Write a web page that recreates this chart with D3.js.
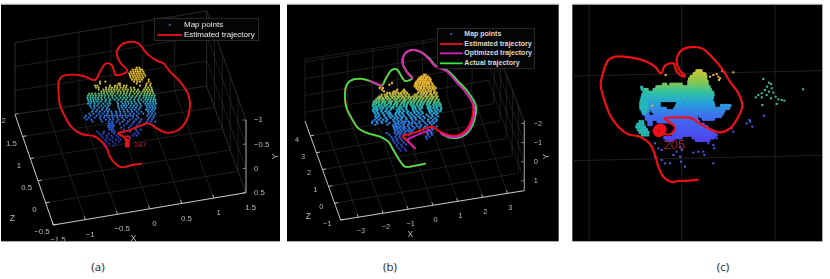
<!DOCTYPE html>
<html>
<head>
<meta charset="UTF-8">
<script src="https://d3js.org/d3.v7.min.js"></script>
<style>
  html, body { margin: 0; padding: 0; background: #fff; }
  svg { display: block; }
  .soft { filter: blur(0.5px); }
  .softer { filter: blur(0.65px); }
</style>
</head>
<body>
<svg id="chart" width="830" height="279"></svg>
<script>
// all picture values are in "read units": 3 units = 1 pixel of the reference
var xTicksA = [-1.5, -1, -0.5, 0, 0.5, 1, 1.5];
var yTicksA = [-1, -0.5, 0, 0.5];
var zTicksA = [-0.5, 0, 0.5, 1, 1.5, 2];
var xTicksB = [-3, -2, -1, 0, 1, 2, 3];
var yTicksB = [-2, -1, 0, 1];
var zTicksB = [-1, 0, 1, 2, 3, 4];

var trajectoryA = [[425,491],[395,495],[365,502],[345,490],[330,470],[320,445],[300,420],[280,408],[245,402],[215,382],[195,350],[180,315],[176,280],[176,245],[185,230],[215,224],[250,228],[285,240],[300,215],[318,190],[335,195],[348,225],[382,212],[362,190],[350,160],[360,138],[385,126],[415,130],[440,160],[470,182],[490,190],[510,215],[540,245],[565,285],[570,320],[560,360],[535,390],[500,398],[470,385],[445,370],[415,380],[385,392],[355,400],[370,410],[382,420]];

var estimatedB = [[435,491],[405,497],[375,500],[358,480],[340,450],[325,425],[300,410],[265,400],[235,385],[215,355],[200,325],[195,295],[198,260],[210,243],[240,236],[275,245],[305,257],[318,235],[335,210],[350,208],[365,230],[375,243],[397,235],[380,215],[368,190],[372,165],[395,150],[420,155],[445,175],[465,198],[500,212],[530,245],[560,280],[579,315],[577,350],[556,393],[530,407],[505,405],[480,395],[455,380],[425,390],[395,401],[368,409],[385,425],[405,445]];
var optimizedB1 = [[270,243],[288,250],[305,257]];
var optimizedB2 = [[397,235],[380,215],[368,190],[372,165],[395,150],[420,155],[445,175],[465,198],[500,214],[530,247],[562,283],[582,318],[581,352],[560,396],[533,411],[508,410],[482,400]];
var optimizedB3 = [[450,390],[425,399],[400,410],[382,420],[395,435],[405,445]];
var actualB = [[435,491],[405,497],[375,500],[358,480],[340,450],[325,425],[300,410],[265,400],[235,385],[215,355],[200,325],[195,295],[198,260],[210,243],[240,236],[275,245],[305,257],[318,235],[335,210],[350,208],[365,230],[375,243],[397,235],[380,215],[368,190],[372,165],[395,150],[420,155],[445,172],[468,198],[503,212],[534,243],[566,278],[587,315],[586,350],[566,395],[535,414],[510,413],[488,404]];

var trajectoryC = [[398,539],[370,542],[340,543],[318,546],[295,530],[280,500],[270,465],[255,432],[225,410],[190,403],[160,380],[135,345],[115,290],[107,255],[115,215],[130,180],[150,170],[195,172],[240,183],[270,200],[288,220],[300,197],[325,190],[335,215],[350,228],[360,228],[345,212],[335,185],[345,155],[370,142],[410,145],[440,170],[470,205],[495,245],[520,280],[532,317],[520,350],[495,385],[465,397],[430,385],[400,368],[380,355],[340,352],[298,355],[318,370],[330,382],[318,402],[295,402],[278,400],[268,392],[275,378],[292,375],[302,388],[290,405],[272,405],[265,392]];

// map points as rows: [y, [x, x, ...]]
var cloudA = [
  [203,[410,418]],
  [209,[398,406,412,420,426]],
  [215,[392,400,407,414,421,430]],
  [221,[388,395,402,410,417,424,432]],
  [227,[390,398,405,412,419,427,436]],
  [233,[392,400,408,415,422,430]],
  [239,[396,404,410,418,426,446]],
  [245,[402,412,420,446,316,300]],
  [251,[300,356,360,410,440,452]],
  [257,[285,292,330,345,352,360,372,380,420,438,450]],
  [263,[288,296,318,328,336,344,352,362,370,378,392,402,436,444,454]],
  [269,[296,310,318,326,334,342,350,358,368,376,384,394,404,414,432,440,448,456]],
  [275,[304,312,320,328,336,344,354,362,372,382,392,400,410,418,428,436,444,452,458]],
  [281,[268,276,286,296,304,312,322,332,340,352,362,372,380,390,404,414,424,434,442,450,460]],
  [287,[264,272,280,288,298,306,316,326,336,346,358,368,378,388,398,410,420,432,440,448,456,464]],
  [293,[262,270,278,286,294,304,314,326,338,350,362,372,382,394,406,418,430,438,446,454,462]],
  [299,[264,272,280,288,296,306,318,330,344,356,368,378,390,402,414,424,436,444,452,460,466]],
  [305,[266,274,282,292,302,316,328,352,364,376,384,394,404,416,430,440,450,458,466]],
  [311,[264,272,284,296,310,322,330,354,368,376,386,396,408,420,436,444,452,460,468]],
  [317,[270,282,292,304,316,326,354,364,372,380,392,402,412,424,440,448,456,464]],
  [323,[274,284,298,310,322,356,366,376,388,398,408,420,442,450,458,466]],
  [329,[280,292,306,320,328,358,370,382,394,404,416,438,446,456,464]],
  [335,[276,288,300,314,324,334,348,360,372,384,396,410,424,444,452,460]],
  [341,[268,280,296,308,322,336,350,362,376,390,402,416,430,446,456,466]],
  [347,[258,272,290,302,314,320,328,336,344,352,360,368,376,384,392,400,410,442,452,462]],
  [353,[254,266,284,300,312,326,338,352,366,380,398,414,448,460]],
  [359,[260,274,302,318,330,340,356,372,390,408,424,444,456]],
  [365,[278,306,326,336,350,368,384,402,420,440,452,466]],
  [371,[326,332,338,360,380,398,416,434]],
  [377,[324,330,336,342,372,392,410,426,462]],
  [383,[326,332,338,364,386,404]],
  [389,[328,334,340,372,408,422]],
  [395,[292,312,336,344,390,412]],
  [401,[298,310,326,342,360,404,416]],
  [407,[304,320,334,350,398,410]],
  [413,[308,322,338,356,390]],
  [419,[316,330,348,362]],
  [425,[320,338,356]],
  [431,[314,328,346]],
  [437,[318,340]]
];

var cloudB = [
  [224,[432,437]],
  [229,[424,431,436,444]],
  [234,[418,423,430,438,441,449]],
  [239,[414,420,426,433,438,446,452]],
  [244,[410,415,423,430,436,443,451]],
  [249,[407,413,420,428,434,441,447,455,336]],
  [254,[405,411,418,426,433,440,448,458,328]],
  [259,[404,410,418,424,431,438,446,454,462,303]],
  [264,[409,416,423,432,442,450,459,467,299,309]],
  [269,[352,372,413,421,429,436,446,455,463,306]],
  [274,[342,349,368,376,418,427,437,445,452,464,312]],
  [279,[322,329,338,346,355,363,372,381,414,424,432,441,452,462,470]],
  [284,[305,314,320,331,339,347,358,365,376,386,404,410,422,430,438,449,456,468]],
  [289,[298,304,316,323,334,342,353,360,369,379,388,398,407,416,425,436,444,455,463,472]],
  [294,[293,300,309,318,326,337,346,355,366,374,385,393,402,411,421,430,441,451,459,470]],
  [299,[288,296,305,312,323,331,343,350,361,372,379,390,400,408,418,427,437,447,456,466,476]],
  [304,[283,290,299,309,317,328,336,348,357,368,375,386,395,404,415,424,434,444,453,464,474]],
  [309,[281,289,296,306,314,326,333,345,352,365,373,383,393,401,412,422,431,442,450,462,470,479]],
  [314,[279,286,296,303,313,321,332,342,351,362,372,380,392,400,410,420,428,440,447,459,468,476,482]],
  [319,[280,289,297,307,316,328,339,349,360,371,380,396,404,414,424,444,452,463,472,481]],
  [324,[283,290,301,310,322,334,340,356,364,378,398,406,418,426,443,450,460,470,484]],
  [329,[279,287,294,305,319,332,350,358,368,380,399,408,420,446,453,464,474,483]],
  [334,[281,290,304,316,326,352,360,372,384,402,412,424,448,456,468,480]],
  [339,[284,294,308,322,330,348,356,366,382,392,404,416,428,450,462,472]],
  [344,[288,298,312,326,334,346,358,370,386,396,410,422,440,456,468]],
  [349,[286,296,314,328,338,350,362,372,390,402,416,430,446,458,474]],
  [354,[290,302,318,332,344,354,366,378,394,406,420,434,452,466]],
  [359,[284,296,310,322,340,350,362,380,396,408,426,444,460,470]],
  [364,[278,290,304,318,342,356,368,376,386,400,418,430,446,456,468]],
  [369,[276,292,306,328,346,354,364,374,388,396,406,418,436,450,462]],
  [374,[286,322,340,348,358,370,384,394,410,424,442,456]],
  [379,[340,346,352,362,372,384,398,412,422,436,470]],
  [384,[342,350,358,368,376,388,404,418,432,456]],
  [389,[344,352,362,372,384,392,400,430,444,458]],
  [394,[346,356,366,378,388,396,418,440,452]],
  [399,[320,344,354,362,374,392,442,454]],
  [404,[328,350,360,370,388,444,456]],
  [410,[334,346,358,438,448]],
  [416,[338,350,362,376,440]],
  [422,[340,352,366,384]],
  [428,[344,356,372]],
  [434,[350,364,378]],
  [440,[352,366]],
  [446,[358,374]],
  [452,[362,378]]
];

// panel (c) is dense enough to read as runs: [y, [from, to], [from, to], ...]
var cloudCRuns = [
  [213,[396,412]],
  [221,[388,418]],
  [229,[380,422]],
  [237,[374,426]],
  [245,[372,428]],
  [253,[296,306],[318,352],[372,430]],
  [261,[276,432]],
  [269,[240,250],[268,438]],
  [277,[238,258],[262,442]],
  [285,[234,444]],
  [293,[232,444]],
  [301,[230,444]],
  [309,[228,282],[338,350],[360,446]],
  [317,[228,282],[335,348],[356,450],[470,494]],
  [325,[228,300],[330,450],[460,494]],
  [333,[232,252],[262,392],[398,480]],
  [341,[236,250],[270,396],[400,476]],
  [349,[244,394],[406,470]],
  [357,[245,400],[415,450]],
  [365,[252,262],[280,405]],
  [373,[252,262],[330,415]],
  [381,[335,425]],
  [389,[335,435]],
  [397,[325,445]],
  [405,[325,370],[375,455]],
  [413,[300,350],[385,445]],
  [421,[305,325],[395,435]]
];
var cloudCLeft = [[232,269],[240,277],[234,285],[232,293],[238,293],[230,301],[238,301],[228,309],[236,309],[244,309],[228,317],[236,317],[244,317],[230,325],[238,325],[246,325],[234,333],[242,333],[238,341],[225,365],[233,365],[218,373],[226,373],[234,373],[215,381],[223,381],[231,381],[239,381],[220,389],[228,389],[236,389],[244,389],[225,397],[233,397],[241,397],[249,397],[232,405],[240,405],[248,405],[230,262]];
var cloudCSparse = [[270,430],[280,445],[290,450],[345,440],[335,455],[350,450],[325,465],[345,470],[270,470],[290,480],[300,490],[315,490],[348,485],[360,500],[385,458],[400,455],[415,455],[418,465],[445,490],[430,430],[445,435],[448,445],[455,415],[500,385],[505,395],[545,370],[555,365],[562,380],[553,360],[597,347]];
var cloudCYellow = [[435,230],[445,225],[455,222],[460,230],[465,235],[472,213],[478,216],[505,217],[422,222],[302,225],[462,240],[262,317]];
var cloudCGreen = [[595,237],[612,248],[618,252],[606,260],[620,265],[600,270],[590,280],[612,275],[625,278],[580,285],[572,292],[590,292],[605,285],[618,295],[632,290],[640,298],[650,300],[658,302],[635,312],[592,315],[714,268]];

var legendA = ["Map points", "Estimated trajectory"];
var legendB = ["Map points", "Estimated trajectory", "Optimized trajectory", "Actual trajectory"];

var red = "#ee1018", magenta = "#d81fc0", green = "#35e64a", labelGrey = "#b8b8b8";

var svg = d3.select("#chart");
var read = d3.scaleLinear().domain([0, 840]).range([0, 280]);

var line = d3.line()
    .x(function(d) { return read(d[0]); })
    .y(function(d) { return read(d[1]); })
    .curve(d3.curveCatmullRom.alpha(0.5));

function makePanel(id, originX, x0, x1) {
  var g = svg.append("g").attr("transform", "translate(" + originX + ",0)");
  g.append("clipPath").attr("id", id)
    .append("rect").attr("x", read(x0)).attr("y", read(14)).attr("width", read(x1 - x0)).attr("height", read(710));
  g.append("rect")
      .attr("x", read(x0)).attr("y", read(14))
      .attr("width", read(x1 - x0)).attr("height", read(710))
      .attr("fill", "#000");
  g.append("line")
      .attr("x1", read(x0)).attr("x2", read(x1))
      .attr("y1", read(13)).attr("y2", read(13))
      .attr("stroke", "#9a9a9a");
  return g.append("g").attr("clip-path", "url(#" + id + ")");
}

function lerp(a, b, t) { return [a[0] + (b[0] - a[0]) * t, a[1] + (b[1] - a[1]) * t]; }

function segment(g, a, b, color, width) {
  g.append("line")
      .attr("x1", read(a[0])).attr("y1", read(a[1]))
      .attr("x2", read(b[0])).attr("y2", read(b[1]))
      .attr("stroke", color).attr("stroke-width", width);
}

function label(g, p, text, size, anchor) {
  return g.append("text")
      .attr("x", read(p[0])).attr("y", read(p[1]))
      .attr("font-family", "Liberation Sans, Arial, sans-serif")
      .attr("font-size", size)
      .attr("fill", labelGrey)
      .attr("text-anchor", anchor || "middle")
      .attr("dominant-baseline", "middle")
      .text(text);
}

// the 3D box of the MATLAB plots, walls and floor
function drawBox(g, box, ticks) {
  var xs = d3.scaleLinear().domain(d3.extent(ticks.x)).range(box.xRange);
  var zs = d3.scaleLinear().domain(d3.extent(ticks.z)).range(box.zRange);
  var ys = d3.scaleLinear().domain(d3.extent(ticks.y)).range(box.yRange);
  var gridColor = "#2a2a2a";

  ticks.x.forEach(function(v) {
    var t = xs(v), front = lerp(box.front, box.right, t), back = lerp(box.back, box.backRight, t);
    segment(g, front, back, gridColor, 0.7);
    segment(g, back, lerp(box.topLeft, box.topRight, t), gridColor, 0.7);
    segment(g, front, [front[0] + (box.back[0] - box.front[0]) * 0.03, front[1] + (box.back[1] - box.front[1]) * 0.03], "#ddd", 0.8);
    label(g, [front[0] + ticks.xOffset[0], front[1] + ticks.xOffset[1]], ticks.format(v), ticks.size);
  });
  ticks.z.forEach(function(v) {
    var t = zs(v), left = lerp(box.front, box.back, t), right = lerp(box.right, box.backRight, t);
    segment(g, left, right, gridColor, 0.7);
    segment(g, right, lerp(box.yTop, box.topRight, t), gridColor, 0.7);
    segment(g, left, [left[0] + (box.right[0] - box.front[0]) * 0.02, left[1] + (box.right[1] - box.front[1]) * 0.02], "#ddd", 0.8);
    label(g, [left[0] + ticks.zOffset[0], left[1] + ticks.zOffset[1]], ticks.format(v), ticks.size);
  });
  ticks.y.forEach(function(v) {
    var t = ys(v), front = lerp(box.right, box.yTop, t), back = lerp(box.backRight, box.topRight, t);
    segment(g, front, back, gridColor, 0.7);
    segment(g, back, lerp(box.back, box.topLeft, t), gridColor, 0.7);
    segment(g, front, [front[0] - 10, front[1]], "#999", 0.8);
    label(g, [front[0] + ticks.yOffset, front[1] + 1], ticks.format(v), ticks.size, "start");
  });

  segment(g, box.topLeft, box.topRight, gridColor, 0.7);
  segment(g, box.topRight, box.yTop, gridColor, 0.7);
  segment(g, box.back, box.topLeft, gridColor, 0.7);
  segment(g, box.front, box.back, "#d8d8d8", 0.9);
  segment(g, box.front, box.right, "#d8d8d8", 0.9);
  segment(g, box.right, box.yTop, "#8a8a8a", 1.2);

  label(g, box.xLabel, "X", ticks.size + 1);
  label(g, box.zLabel, "Z", ticks.size + 1);
  label(g, box.yLabel, "Y", ticks.size + 1)
      .attr("transform", "rotate(-90," + read(box.yLabel[0]) + "," + read(box.yLabel[1]) + ")");
}

function drawLegend(g, box, names, colors, size) {
  g.append("rect")
      .attr("x", read(box.x)).attr("y", read(box.y))
      .attr("width", read(box.w)).attr("height", read(box.h))
      .attr("fill", "#050505").attr("stroke", "#3a3a3a").attr("stroke-width", 0.7);
  names.forEach(function(name, i) {
    var y = box.rows[i];
    if (i === 0) {
      g.append("circle").attr("cx", read((box.lineFrom + box.lineTo) / 2)).attr("cy", read(y))
          .attr("r", 1).attr("fill", "#2a78d8");
    } else {
      segment(g, [box.lineFrom, y], [box.lineTo, y], colors[i], 1.8);
    }
    g.append("text")
        .attr("x", read(box.textX)).attr("y", read(y))
        .attr("font-family", "Liberation Sans, Arial, sans-serif")
        .attr("font-size", size)
        .attr("font-weight", box.weight)
        .attr("fill", box.textColor)
        .attr("dominant-baseline", "middle")
        .text(name);
  });
}

function drawRows(g, rows, color, r) {
  rows.forEach(function(row) {
    g.selectAll(null).data(row[1]).enter().append("circle")
        .attr("cx", function(x) { return read(x); })
        .attr("cy", read(row[0]))
        .attr("r", r)
        .attr("fill", color(row[0]));
  });
}

function drawPath(g, points, color, width) {
  g.append("path").datum(points)
      .attr("d", line)
      .attr("fill", "none")
      .attr("stroke", color)
      .attr("stroke-width", width)
      .attr("stroke-linejoin", "round")
      .attr("stroke-linecap", "round");
}

function drawSquares(g, points, color, size) {
  g.selectAll(null).data(points).enter().append("rect")
      .attr("x", function(d) { return read(d[0]) - size / 2; })
      .attr("y", function(d) { return read(d[1]) - size / 2; })
      .attr("width", size).attr("height", size)
      .attr("fill", color);
}

function caption(text, x) {
  svg.append("text")
      .attr("x", x).attr("y", 271)
      .attr("text-anchor", "middle")
      .attr("font-family", "Noto Sans, Open Sans, sans-serif")
      .attr("font-size", 11.5)
      .attr("fill", "#333")
      .text(text);
}

// panel (a)
var panelA = makePanel("clip-a", 0, 3, 840).attr("class", "soft");
drawBox(panelA, {
  front: [160, 675], right: [738, 578], back: [45, 343], backRight: [620, 258],
  topLeft: [45, 128], topRight: [620, 33], yTop: [738, 360],
  xRange: [0, 1], zRange: [0, 1], yRange: [1, 0],
  xLabel: [400, 717], zLabel: [37, 656], yLabel: [826, 470]
}, {
  x: xTicksA, y: yTicksA, z: zTicksA, size: 7.8,
  format: d3.format(""),
  xOffset: [14, 45], zOffset: [-34, 21], yOffset: 24
});
var colorA = d3.scaleLinear()
    .domain([205, 250, 272, 292, 312, 345, 400])
    .range(["#f4c430", "#e6bf30", "#a8c548", "#2fbf9f", "#25a5dc", "#2f78e2", "#2a4fd0"]);
drawRows(panelA, cloudA, colorA, 1.05);
drawPath(panelA, trajectoryA, red, 1.9);
panelA.append("rect").attr("x", read(375)).attr("y", read(420)).attr("width", read(14)).attr("height", read(22)).attr("fill", red);
panelA.append("circle").attr("cx", read(382)).attr("cy", read(415)).attr("r", read(7)).attr("fill", "none").attr("stroke", red).attr("stroke-width", 1.4);
label(panelA, [401, 436], "187", 7.8, "start").attr("fill", "#c01818");
drawLegend(panelA, { x: 463, y: 55, w: 313, h: 67, rows: [74, 105], lineFrom: 472, lineTo: 546, textX: 552, weight: 400, textColor: "#ededed" }, legendA, [null, red], 8);

// panel (b)
var panelB = makePanel("clip-b", 280, 21, 836).attr("class", "softer");
drawBox(panelB, {
  front: [182, 660], right: [733, 572], back: [75, 363], backRight: [625, 265],
  topLeft: [75, 178], topRight: [630, 90], yTop: [733, 362],
  xRange: [0.096, 0.909], zRange: [0, 0.85], yRange: [0.96, 0.14],
  xLabel: [391, 704], zLabel: [85, 650], yLabel: [800, 470]
}, {
  x: xTicksB, y: yTicksB, z: zTicksB, size: 7.4,
  format: d3.format(""),
  xOffset: [8, 43], zOffset: [-40, 12], yOffset: 28
});
var colorB = d3.scaleLinear()
    .domain([225, 275, 292, 312, 335, 370, 420])
    .range(["#eeb62e", "#dcb73a", "#a3bf4a", "#2bbf9e", "#1fa8dc", "#2a82e4", "#2a52c8"]);
drawRows(panelB, cloudB, colorB, 1.2);
drawPath(panelB, estimatedB, red, 2);
drawPath(panelB, actualB, green, 1.8);
drawPath(panelB, optimizedB1, magenta, 1.8);
drawPath(panelB, optimizedB2, magenta, 1.8);
drawPath(panelB, optimizedB3, magenta, 1.8);
drawLegend(panelB, { x: 472, y: 85, w: 291, h: 120, rows: [102, 132, 160, 190], lineFrom: 480, lineTo: 548, textX: 553, weight: 700, textColor: "#d8d8d8" }, legendB, [null, red, magenta, green], 7);

// panel (c)
var panelC = makePanel("clip-c", 565, 22, 772).attr("class", "softer");
var gridXC = [72, 350, 630], gridYC = [[228, 212], [482, 466]];
gridXC.forEach(function(x) { segment(panelC, [x, 14], [x, 724], "#1f1f1f", 1); });
gridYC.forEach(function(y) { segment(panelC, [22, y[0]], [772, y[1]], "#1f1f1f", 1); });
var colorC = d3.scaleLinear()
    .domain([215, 250, 280, 310, 350, 400])
    .range(["#c6c636", "#80c856", "#2fc0a6", "#27a2da", "#3f70f0", "#4a52ee"]);
var cloudCRows = cloudCRuns.map(function(row) {
  var xs = [];
  row.slice(1).forEach(function(run) { xs = xs.concat(d3.range(run[0], run[1] + 1, 6)); });
  return [row[0], xs];
});
drawRows(panelC, cloudCRows, colorC, 1.9);
drawSquares(panelC, cloudCLeft, "#25b8b4", 3);
drawSquares(panelC, cloudCSparse, "#4a5cec", 2);
drawSquares(panelC, cloudCYellow, "#e8c22e", 2);
drawSquares(panelC, cloudCGreen, "#3cc09a", 2);
drawPath(panelC, trajectoryC, red, 2.2);
panelC.append("circle").attr("cx", read(283)).attr("cy", read(391)).attr("r", read(10)).attr("fill", "none").attr("stroke", red).attr("stroke-width", 5.5);
label(panelC, [328, 436], "205", 13).attr("fill", "#a01c1c");

caption("(a)", 98);
caption("(b)", 390);
caption("(c)", 723);
</script>
</body>
</html>
